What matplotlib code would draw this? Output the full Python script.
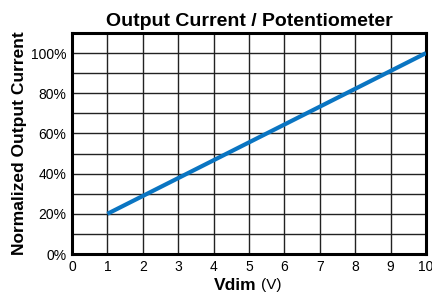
import numpy as np
import matplotlib.pyplot as plt
from matplotlib.ticker import MultipleLocator, FuncFormatter

plt.rcParams['font.family'] = ['Liberation Sans', 'DejaVu Sans']

# data
vdim = [1, 10]
current_pct = [20, 100]
x_ticks = list(range(0, 11))
y_ticks = [0, 20, 40, 60, 80, 100]

fig = plt.figure(figsize=(4.32, 2.95), dpi=100)
ax = fig.add_axes([72 / 432, 1 - 254 / 295, (426 - 72) / 432, (254 - 33) / 295])

ax.plot(vdim, current_pct, color='#0a75c2', linewidth=3, solid_capstyle='butt', zorder=3)

ax.set_xlim(0, 10)
ax.set_ylim(0, 110)
ax.set_xticks(x_ticks)
ax.set_yticks(y_ticks)
ax.yaxis.set_minor_locator(MultipleLocator(10))
ax.yaxis.set_major_formatter(FuncFormatter(lambda v, p: f'{int(v)}%'))
ax.tick_params(which='both', length=0, labelsize=10, pad=4)

ax.grid(True, which='major', axis='both', color='#222222', linewidth=1)
ax.grid(True, which='minor', axis='y', color='#222222', linewidth=1)
ax.set_axisbelow(True)

for s in ax.spines.values():
    s.set_linewidth(2.2)
    s.set_color('black')

ax.set_title('Output Current / Potentiometer', fontsize=14, fontweight='bold', pad=5)
ax.set_ylabel('Normalized Output Current', fontsize=12.5, fontweight='bold', labelpad=3)
fig.text(256 / 432, 1 - 285 / 295, 'Vdim', fontsize=12.5, fontweight='bold',
         ha='right', va='center')
fig.text(261 / 432, 1 - 285 / 295, '(V)', fontsize=11,
         ha='left', va='center')

plt.savefig('out.png', dpi=100)
